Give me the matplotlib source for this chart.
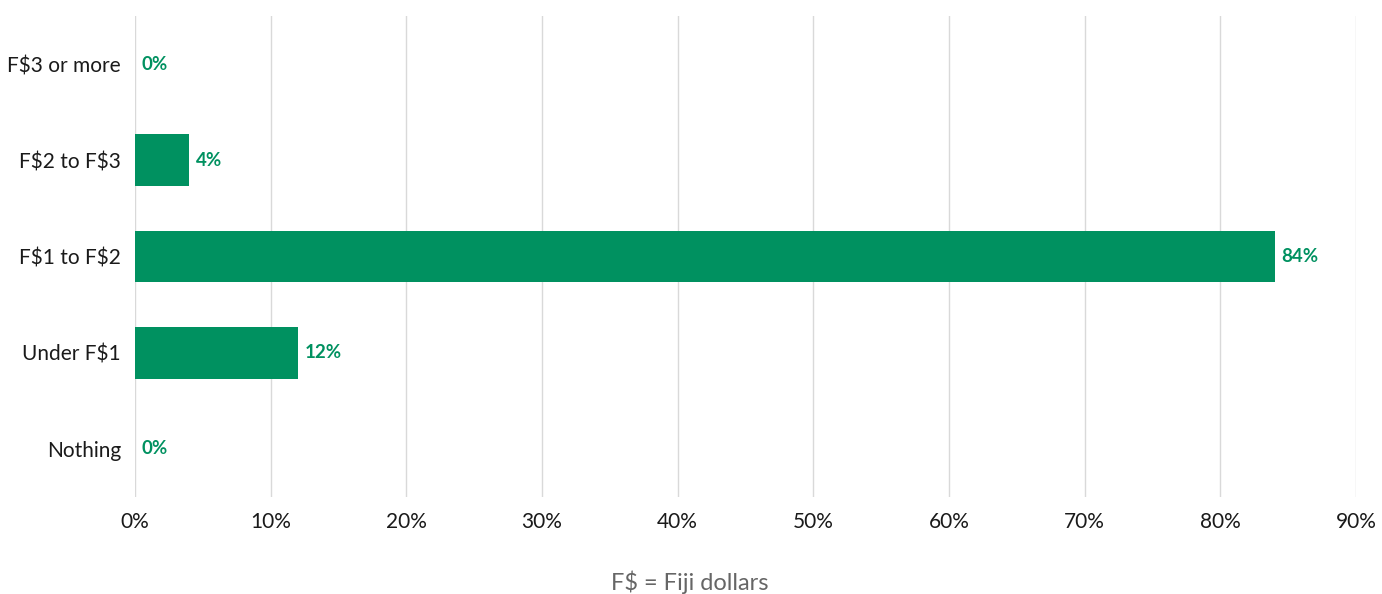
import matplotlib
matplotlib.use("Agg")
import matplotlib.pyplot as plt
from matplotlib.ticker import FuncFormatter

categories = ["F$3 or more", "F$2 to F$3", "F$1 to F$2", "Under F$1", "Nothing"]
values = [0, 4, 84, 12, 0]
xticks = [0, 10, 20, 30, 40, 50, 60, 70, 80, 90]
footnote = "F$ = Fiji dollars"

green = "#009160"
plt.rcParams['font.family'] = ['Lato', 'DejaVu Sans']
plt.rcParams['text.parse_math'] = False

fig = plt.figure(figsize=(13.82, 5.94), dpi=100)
W, H = 1382, 594
ax = fig.add_axes([135 / W, (H - 497) / H, (1356 - 135) / W, (497 - 16) / H])

ypos = list(range(len(categories)))
ax.barh(ypos, values, height=0.54, color=green, zorder=3)
for y, v in zip(ypos, values):
    ax.text(v + 0.5, y, f"{v}%", va="center", ha="left", color=green,
            fontsize=13.5, fontweight="bold", zorder=4)

ax.set_yticks(ypos)
ax.set_yticklabels(categories)
ax.set_ylim(len(categories) - 0.5, -0.5)
ax.set_xlim(0, 90)
ax.set_xticks(xticks)
ax.xaxis.set_major_formatter(FuncFormatter(lambda v, p: f"{v:.0f}%"))
ax.tick_params(axis="both", length=0, labelsize=15, colors="#1a1a1a")
ax.tick_params(axis="x", pad=11)
ax.tick_params(axis="y", pad=10)
ax.grid(axis="x", color="#d9d9d9", linewidth=1, zorder=0)
for s in ax.spines.values():
    s.set_visible(False)

fig.text(690 / W, 1 - 582 / H, footnote, ha="center", va="center",
         fontsize=17, color="#666666")

fig.savefig("out.png", dpi=100)
